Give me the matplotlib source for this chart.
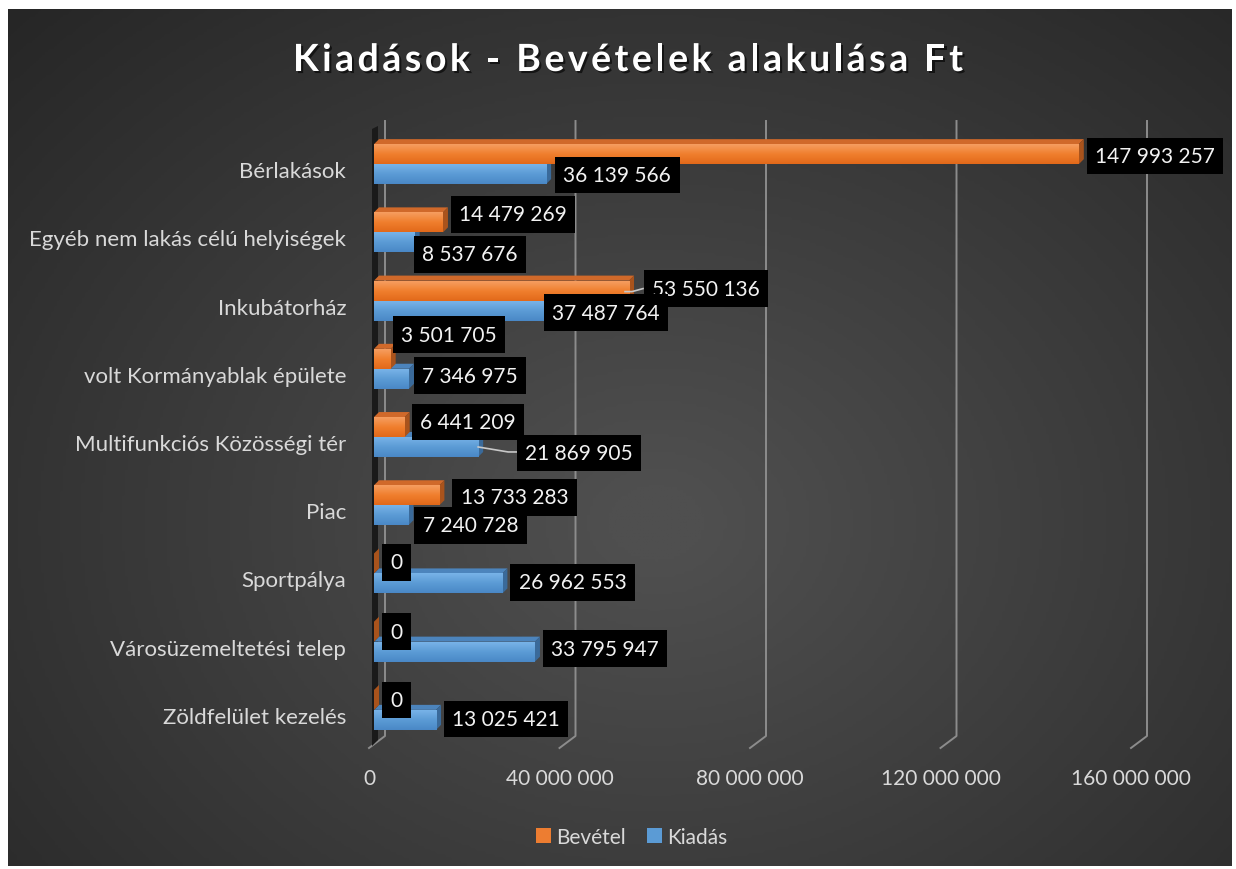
import numpy as np
import matplotlib
matplotlib.use("Agg")
import matplotlib.pyplot as plt
import matplotlib.patheffects as pe
from matplotlib.patches import Polygon, Patch
from matplotlib.lines import Line2D
from matplotlib.transforms import IdentityTransform, ScaledTranslation
from matplotlib.colors import LinearSegmentedColormap
from matplotlib.font_manager import FontProperties

# data
categories = ["Bérlakások", "Egyéb nem lakás célú helyiségek", "Inkubátorház",
              "volt Kormányablak épülete", "Multifunkciós Közösségi tér", "Piac",
              "Sportpálya", "Városüzemeltetési telep", "Zöldfelület kezelés"]
bevetel = [147993257, 14479269, 53550136, 3501705, 6441209, 13733283, 0, 0, 0]
kiadas = [36139566, 8537676, 37487764, 7346975, 21869905, 7240728, 26962553, 33795947, 13025421]
x_ticks = [0, 40000000, 80000000, 120000000, 160000000]
x_tick_labels = ["0", "40 000 000", "80 000 000", "120 000 000", "160 000 000"]
title = "Kiadások - Bevételek alakulása Ft"

# label box offsets from bar end (pixels, right / down), moved like in the original
bev_label_off = [(8, 2), (8, -8), (15, -2), (2, -24), (7, -5), (13, 2), (8, -1), (8, 0), (8, 0)]
kia_label_off = [(9, 1), (-1, 12), (-9, 2), (5, -3), (39, 6), (6, 10), (8, -1), (8, -3), (8, -1)]

plt.rcParams['font.family'] = ['Lato', 'DejaVu Sans']

W, H = 1236, 870
fig = plt.figure(figsize=(W / 100, H / 100), dpi=100)
fig.patch.set_facecolor('white')

# radial gradient background
bg = fig.add_axes([8 / W, 1 - 867 / H, 1224 / W, 857 / H])
yy, xx = np.mgrid[0:1:300j, 0:1:400j]
r = np.sqrt(((xx - 0.53) / 0.75) ** 2 + ((yy - 0.6) / 0.85) ** 2)
bg_cmap = LinearSegmentedColormap.from_list('bg', ['#262626', '#4f4f4f'])
bg.imshow(np.clip(1 - r, 0, 1), cmap=bg_cmap, aspect='auto', extent=(0, 1, 1, 0),
          origin='upper', vmin=0, vmax=0.95)
bg.axis('off')

ax = fig.add_axes([374 / W, 1 - 745 / H, 762 / W, 614 / H])
ax.set_facecolor('none')
ax.set_xlim(0, 160000000)
ax.set_ylim(8.5, -0.5)
ax.set_autoscale_on(False)
for s in ax.spines.values():
    s.set_visible(False)

def p(x, y):
    return ax.transData.transform((x, y))

ident = IdentityTransform()
grid_col = '#8c8c8c'

# back gridlines and floor ticks
for t in x_ticks:
    top = p(t, -0.5) + np.array([11, 9])
    bot = p(t, 8.5) + np.array([11, 8])
    front = p(t, 8.5) + np.array([-5, -4])
    ax.add_line(Line2D([top[0], bot[0], front[0]], [top[1], bot[1], front[1]],
                       color=grid_col, lw=1.4, transform=ident, zorder=1, clip_on=False))

# dark side wall
w_top = p(0, -0.5)
w_bot = p(0, 8.5)
ax.add_patch(Polygon([(w_bot[0] - 2, w_bot[1] - 2), (w_top[0] - 2, w_top[1] + 1),
                      (w_top[0] + 4, w_top[1] + 4), (w_bot[0] + 4, w_bot[1] + 4)],
                     closed=True, facecolor='#1a1a1a', edgecolor='none',
                     transform=ident, zorder=1.5, clip_on=False))

orange = dict(front=['#F69E60', '#F07F2E', '#E2691A'], top='#D0692A', side='#A9531C', leg='#ED7D31')
blue = dict(front=['#78B3E8', '#5B9BD5', '#4A88C6'], top='#4C84BC', side='#3A6A9A', leg='#5B9BD5')

h = 0.293
d = 5
grad = np.linspace(0, 1, 64).reshape(-1, 1)

def fmt(v):
    return f"{v:,.0f}".replace(",", " ")

series = [(bevetel, -0.146, orange, bev_label_off, 4, 6), (kiadas, 0.146, blue, kia_label_off, 3, 7)]

for vals, off, col, offs, zf, zl in series:
    cmap = LinearSegmentedColormap.from_list('g', col['front'])
    for i, v in enumerate(vals):
        y = i + off
        x0, yt = p(0, y - h / 2)
        x1, _ = p(v, y - h / 2)
        _, yb = p(0, y + h / 2)
        # 3D faces
        ax.add_patch(Polygon([(x0, yt), (x1, yt), (x1 + d, yt + d), (x0 + d, yt + d)],
                             facecolor=col['top'], edgecolor='none', transform=ident, zorder=2))
        ax.add_patch(Polygon([(x1, yb), (x1, yt), (x1 + d, yt + d), (x1 + d, yb + d)],
                             facecolor=col['side'], edgecolor='none', transform=ident,
                             zorder=zf - 0.5))
        bar = ax.barh(y, v, height=h, color=col['front'][1], zorder=zf)[0]
        if v > 0:
            im = ax.imshow(grad, cmap=cmap, aspect='auto', extent=(0, v, y + h / 2, y - h / 2),
                           zorder=zf + 0.1)
            im.set_clip_path(bar)
        # data label
        dx, dy = offs[i]
        pad_px = 0.4 * 15 * 100 / 72
        ax.annotate(fmt(v), xy=(v, y), xytext=(dx + pad_px, -dy), textcoords='offset pixels',
                    ha='left', va='center', fontsize=15, color='#f2f2f2', zorder=zl,
                    bbox=dict(boxstyle='square,pad=0.4', facecolor='black', edgecolor='none'))

ax.set_xlim(0, 160000000)
ax.set_ylim(8.5, -0.5)

# leader lines
lc = '#c8c8c8'
e = p(bevetel[2], 2 - 0.146)
ax.add_line(Line2D([e[0] - 4, e[0] + 3, e[0] + 14], [e[1] - 1, e[1] - 1, e[1] + 2], color=lc, lw=1.2,
                   transform=ident, zorder=5))
e = p(kiadas[4], 4 + 0.146)
ax.add_line(Line2D([e[0], e[0] + 30, e[0] + 39], [e[1], e[1] - 5, e[1] - 5], color=lc, lw=1.2,
                   transform=ident, zorder=5))

# axes ticks
ax.set_xticks(x_ticks)
ax.set_xticklabels(x_tick_labels)
ax.set_yticks(range(len(categories)))
ax.set_yticklabels(categories)
ax.tick_params(axis='x', length=0, pad=17, labelsize=15, labelcolor='#d9d9d9')
ax.tick_params(axis='y', length=0, pad=20, labelsize=16, labelcolor='#d9d9d9')
for lbl in ax.get_xticklabels():
    lbl.set_transform(lbl.get_transform() + ScaledTranslation(-5 / 100, 0, fig.dpi_scale_trans))
for lbl in ax.get_yticklabels():
    lbl.set_transform(lbl.get_transform() + ScaledTranslation(0, -5 / 100, fig.dpi_scale_trans))

# legend
fig.legend(handles=[Patch(facecolor=orange['leg'], label='Bevétel'),
                    Patch(facecolor=blue['leg'], label='Kiadás')],
           loc='center', bbox_to_anchor=(632 / W, 1 - 838 / H), ncol=2, frameon=False,
           fontsize=15, labelcolor='#d9d9d9', handlelength=0.72, handleheight=0.72,
           handletextpad=0.25, columnspacing=1.0)

# title with letter spacing
renderer = fig.canvas.get_renderer()
fp = FontProperties(family=['Lato', 'DejaVu Sans'], weight='bold', size=27)

def width_px(s):
    w, _, _ = renderer.get_text_width_height_descent(s + "x", fp, ismath=False)
    wx, _, _ = renderer.get_text_width_height_descent("x", fp, ismath=False)
    return w - wx

left_px, right_px, base_px = 293, 963, 72
natural = width_px(title)
spacing = max(0.0, (right_px - left_px - natural) / (len(title) - 1))
for k, ch in enumerate(title):
    if ch == ' ':
        continue
    xk = left_px + width_px(title[:k]) + k * spacing
    fig.text(xk / W, 1 - base_px / H, ch, fontproperties=fp, color='white',
             ha='left', va='baseline',
             path_effects=[pe.SimplePatchShadow(offset=(1.5, -1.5), shadow_rgbFace='black', alpha=0.6),
                           pe.Normal()])

fig.savefig('out.png', dpi=100, facecolor='white')
